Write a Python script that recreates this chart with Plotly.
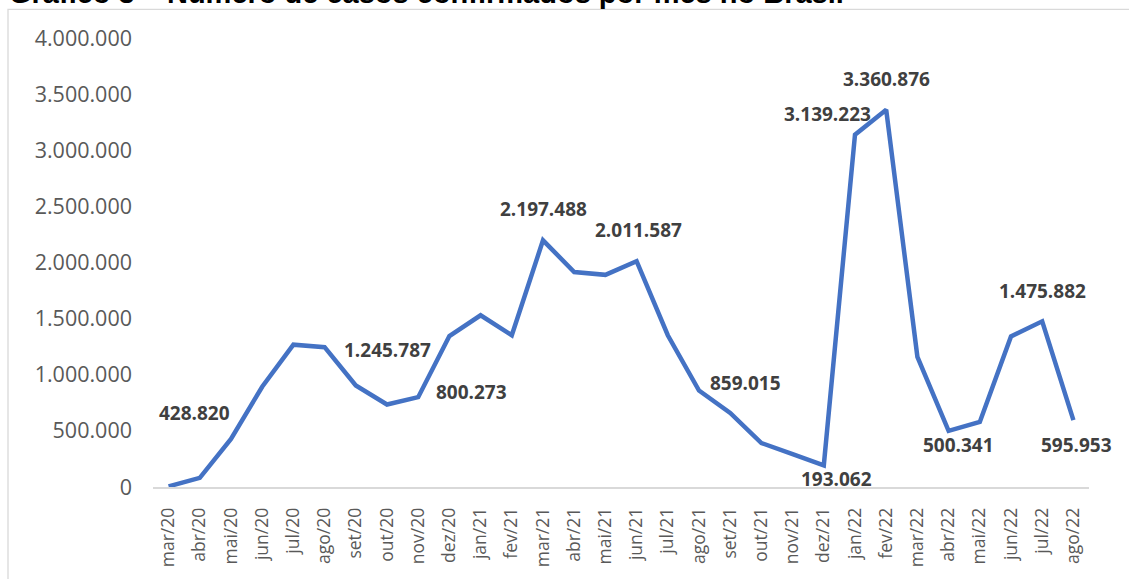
import plotly.graph_objects as go

months = ["mar/20", "abr/20", "mai/20", "jun/20", "jul/20", "ago/20", "set/20", "out/20",
          "nov/20", "dez/20", "jan/21", "fev/21", "mar/21", "abr/21", "mai/21", "jun/21",
          "jul/21", "ago/21", "set/21", "out/21", "nov/21", "dez/21", "jan/22", "fev/22",
          "mar/22", "abr/22", "mai/22", "jun/22", "jul/22", "ago/22"]
cases = [5717, 82000, 428820, 893000, 1268000, 1245787, 905000, 735000,
         800273, 1345000, 1530000, 1352000, 2197488, 1915000, 1890000, 2011587,
         1352000, 859015, 660000, 392000, 292000, 193062, 3139223, 3360876,
         1160000, 500341, 580000, 1342000, 1475882, 595953]
labeled_months = ["mai/20", "ago/20", "nov/20", "mar/21", "jun/21", "ago/21",
                  "dez/21", "jan/22", "fev/22", "abr/22", "jul/22", "ago/22"]
y_tick_vals = [0, 500000, 1000000, 1500000, 2000000, 2500000, 3000000, 3500000, 4000000]
title_text = "Gráfico 3 – Número de casos confirmados por mês no Brasil"

# label pixel offsets (dx right, dy down)
label_offsets = {
    "mai/20": (-37, -26), "ago/20": (63, 3), "nov/20": (53, -5), "mar/21": (0, -31),
    "jun/21": (2, -31), "ago/21": (46, -8), "dez/21": (13, 14), "jan/22": (-28, -21),
    "fev/22": (0, -31), "abr/22": (10, 14), "jul/22": (0, -30), "ago/22": (3, 25),
}


def fmt(v):
    return f"{v:,}".replace(",", ".")


L, R, T, B = 153, 40, 38, 92
W, H = 1129, 579
pw, ph = W - L - R, H - T - B

fig = go.Figure()
fig.add_trace(go.Scatter(x=months, y=cases, mode="lines",
                         line=dict(color="#4472C4", width=4.5), hoverinfo="x+y"))

annotations = []
for m in labeled_months:
    v = cases[months.index(m)]
    dx, dy = label_offsets[m]
    annotations.append(dict(x=m, y=v, xref="x", yref="y", text=fmt(v), showarrow=False,
                            xshift=dx, yshift=-dy,
                            font=dict(family="Open Sans", size=19, color="#404040", weight="bold")))

annotations.append(dict(text="<b>" + title_text + "</b>", xref="paper", yref="paper",
                        x=(7 - L) / pw, y=1 + (T + 6.5) / ph, xanchor="left", yanchor="middle",
                        showarrow=False,
                        font=dict(family="Liberation Sans", size=29, color="#000000")))

fig.update_layout(
    width=W, height=H,
    margin=dict(l=L, r=R, t=T, b=B, autoexpand=False),
    paper_bgcolor="white", plot_bgcolor="white",
    showlegend=False,
    annotations=annotations,
    shapes=[dict(type="rect", xref="paper", yref="paper",
                 x0=(8 - L) / pw, x1=1.3, y0=-0.5, y1=1 + (T - 9.3) / ph,
                 line=dict(color="#d9d9d9", width=1.3), fillcolor="rgba(0,0,0,0)", layer="below")],
    xaxis=dict(type="category", showgrid=False, zeroline=False, automargin=False,
               showline=True, linecolor="#d9d9d9", linewidth=1.5,
               tickangle=-90, ticks="", ticklabelstandoff=12,
               tickfont=dict(family="Open Sans", size=17.5, color="#595959"),
               range=[-0.5, len(months) - 0.5]),
    yaxis=dict(range=[0, 4000000], tickvals=y_tick_vals, automargin=False,
               ticktext=[fmt(v) for v in y_tick_vals],
               showgrid=False, zeroline=False, showline=False, ticks="",
               ticklabelstandoff=20,
               tickfont=dict(family="Open Sans", size=21.5, color="#595959")),
)

fig.write_html("out.html", config={"displayModeBar": False},
               post_script="document.body.style.margin='0';")
